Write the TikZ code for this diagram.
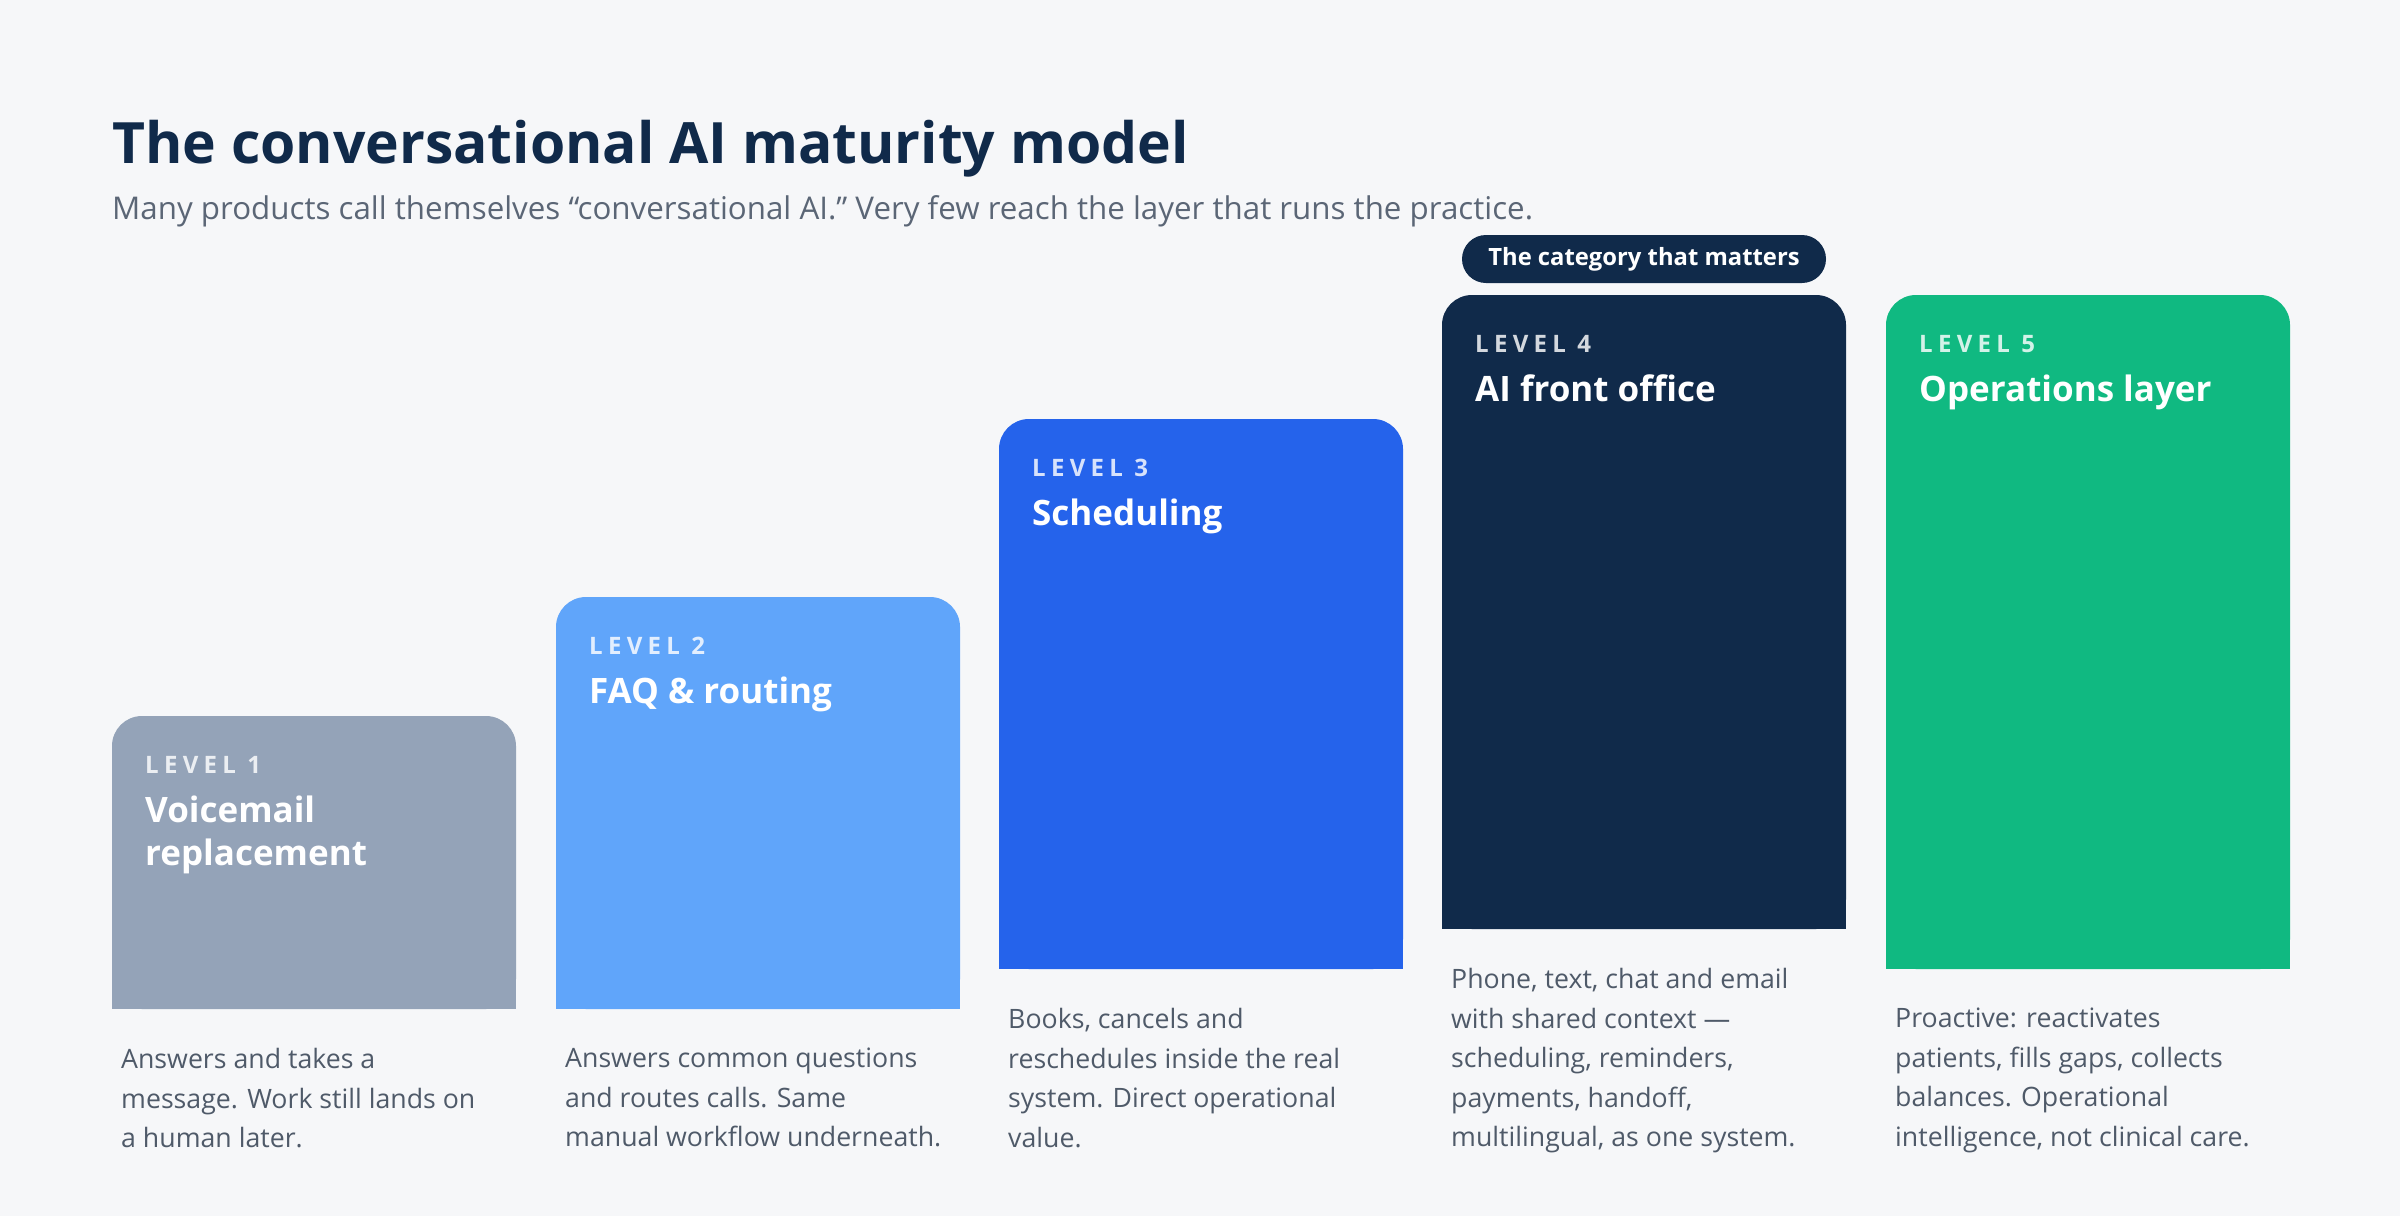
\documentclass[tikz,border=0pt]{standalone}
\usepackage{fontspec}
\setmainfont{Open Sans}
\definecolor{bg}{HTML}{F6F7F9}
\definecolor{navy}{HTML}{102A4A}
\definecolor{subg}{HTML}{5B6676}
\definecolor{descg}{HTML}{4F5A69}
\definecolor{cA}{HTML}{94A3B8}
\definecolor{cB}{HTML}{60A5FA}
\definecolor{cC}{HTML}{2563EB}
\definecolor{cD}{HTML}{102A4A}
\definecolor{cE}{HTML}{10B981}
\tikzset{
  lvl/.style={anchor=base west, inner sep=0pt, text=white, text opacity=0.82,
    font=\bfseries\fontsize{24}{28}\selectfont\addfontfeature{LetterSpace=22}},
  bartitle/.style={anchor=base west, inner sep=0pt, text=white, align=left,
    font=\bfseries\fontsize{35}{43}\selectfont},
  desc/.style={anchor=north west, inner sep=0pt, text=descg, align=left,
    font=\fontsize{26.7}{39.5}\selectfont},
}
\begin{document}
\begin{tikzpicture}[x=1pt,y=-1pt]
\useasboundingbox[fill=bg] (0,0) rectangle (2400,1216);
% title
\node[anchor=base west, inner sep=0pt, text=navy, font=\bfseries\fontsize{57}{66}\selectfont] (title) at (112,163) {The conversational AI maturity model};
\node[anchor=base west, inner sep=0pt, text=subg, font=\fontsize{31.3}{36}\selectfont] (sub) at (112,219) {Many products call themselves “conversational AI.” Very few reach the layer that runs the practice.};
% bars
\foreach \i/\x/\t/\b/\c in {1/112/716/1009/cA, 2/556/597/1009/cB, 3/999/419/969/cC, 4/1442/295/929/cD, 5/1886/295/969/cE}{
  \fill[\c, rounded corners=30pt] (\x,\t) rectangle (\x+404,\b);
  \fill[\c] (\x,\t+40) rectangle (\x+404,\b);
  \coordinate (bar\i) at (\x,\t);
  \node[lvl] (lv\i) at (\x+33,\t+57) {LEVEL \i};
  \coordinate (dsc\i) at (\x+9,\b+39);
}
\node[bartitle] (t1) at ([xshift=33pt,yshift=-149pt]bar1) {Voicemail\\replacement};
\node[bartitle] (t2) at ([xshift=33pt,yshift=-106pt]bar2) {FAQ \& routing};
\node[bartitle] (t3) at ([xshift=33pt,yshift=-106pt]bar3) {Scheduling};
\node[bartitle] (t4) at ([xshift=33pt,yshift=-106pt]bar4) {AI front office};
\node[bartitle] (t5) at ([xshift=33pt,yshift=-106pt]bar5) {Operations layer};
% badge
\node[fill=navy, text=white, rounded corners=24pt, minimum width=364pt, minimum height=48pt, inner sep=0pt,
  font=\bfseries\fontsize{23.8}{28}\selectfont] (badge) at (1644,259) {The category that matters};
% descriptions
\node[desc] (d1) at (dsc1) {Answers and takes a\\message. Work still lands on\\a human later.};
\node[desc] (d2) at (dsc2) {Answers common questions\\and routes calls. Same\\manual workflow underneath.};
\node[desc] (d3) at (dsc3) {Books, cancels and\\reschedules inside the real\\system. Direct operational\\value.};
\node[desc] (d4) at (dsc4) {Phone, text, chat and email\\with shared context —\\scheduling, reminders,\\payments, handoff,\\multilingual, as one system.};
\node[desc] (d5) at (dsc5) {Proactive: reactivates\\patients, fills gaps, collects\\balances. Operational\\intelligence, not clinical care.};
\end{tikzpicture}
\end{document}
